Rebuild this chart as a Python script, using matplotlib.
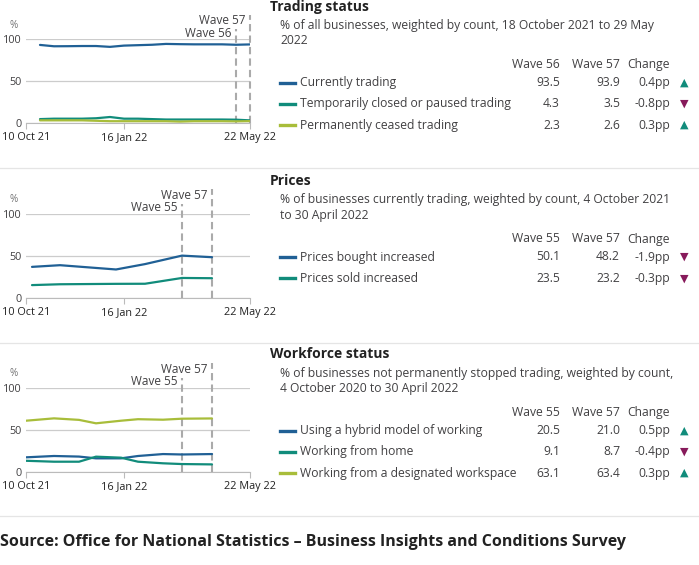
import matplotlib
matplotlib.use("Agg")
import matplotlib.pyplot as plt
from matplotlib.lines import Line2D
import pandas as pd

plt.rcParams["font.family"] = ["Open Sans", "DejaVu Sans"]

W, H = 699, 565
BLUE, TEAL, LIME = "#206095", "#118c7b", "#a8bd3a"
UP, DOWN = "#118c7b", "#871a5b"
TXT, DARK = "#414042", "#222222"
FS = 8.7

# ---- data ----
trading_dates = pd.to_datetime([
    "2021-10-24", "2021-11-07", "2021-11-21", "2021-12-05", "2021-12-19",
    "2022-01-02", "2022-01-16", "2022-01-30", "2022-02-13", "2022-02-27",
    "2022-03-13", "2022-03-27", "2022-04-10", "2022-04-24", "2022-05-08",
    "2022-05-22"])
currently_trading = [93.3, 91.7, 91.8, 92.0, 92.0, 91.0, 92.5, 93.0, 93.5,
                     94.5, 94.2, 94.0, 94.0, 94.0, 93.5, 93.9]
temp_closed = [5.0, 5.5, 5.5, 5.5, 6.0, 7.5, 5.5, 5.5, 5.0, 4.5, 4.5, 4.5,
               4.5, 4.5, 4.3, 3.5]
perm_ceased = [3.5, 3.5, 3.5, 3.5, 3.0, 2.5, 2.5, 2.5, 2.5, 2.5, 2.0, 2.5,
               2.5, 2.5, 2.3, 2.6]

prices_dates = pd.to_datetime([
    "2021-10-16", "2021-11-13", "2022-01-08", "2022-02-06", "2022-03-15",
    "2022-04-14"])
prices_bought = [36.7, 38.7, 33.6, 40.0, 50.1, 48.2]
prices_sold = [15.0, 16.0, 16.5, 16.6, 23.5, 23.2]

work_dates = pd.to_datetime([
    "2021-10-10", "2021-11-07", "2021-12-02", "2021-12-19", "2022-01-13",
    "2022-01-30", "2022-02-24", "2022-03-15", "2022-04-14"])
hybrid = [17.1, 18.7, 18.0, 15.9, 15.9, 18.7, 21.0, 20.5, 21.0]
from_home = [13.0, 11.9, 11.9, 17.9, 16.7, 11.9, 10.0, 9.1, 8.7]
workspace = [60.7, 63.5, 61.7, 57.6, 60.7, 62.5, 61.9, 63.1, 63.4]

x_ticks = pd.to_datetime(["2021-10-10", "2022-01-16", "2022-05-22"])
x_tick_labels = ["10 Oct 21", "16 Jan 22", "22 May 22"]

panels = [
    dict(title="Trading status",
         subtitle=["% of all businesses, weighted by count, 18 October 2021 to 29 May",
                   "2022"],
         dates=trading_dates, waves=["Wave 56", "Wave 57"],
         series=[("Currently trading", currently_trading, BLUE, "93.5", "93.9", "0.4pp", True),
                 ("Temporarily closed or paused trading", temp_closed, TEAL, "4.3", "3.5", "-0.8pp", False),
                 ("Permanently ceased trading", perm_ceased, LIME, "2.3", "2.6", "0.3pp", True)],
         top=0, ax_bottom=123.3),
    dict(title="Prices",
         subtitle=["% of businesses currently trading, weighted by count, 4 October 2021",
                   "to 30 April 2022"],
         dates=prices_dates, waves=["Wave 55", "Wave 57"],
         series=[("Prices bought increased", prices_bought, BLUE, "50.1", "48.2", "-1.9pp", False),
                 ("Prices sold increased", prices_sold, TEAL, "23.5", "23.2", "-0.3pp", False)],
         top=174.5, ax_bottom=297.7),
    dict(title="Workforce status",
         subtitle=["% of businesses not permanently stopped trading, weighted by count,",
                   "4 October 2020 to 30 April 2022"],
         dates=work_dates, waves=["Wave 55", "Wave 57"],
         series=[("Using a hybrid model of working", hybrid, BLUE, "20.5", "21.0", "0.5pp", True),
                 ("Working from home", from_home, TEAL, "9.1", "8.7", "-0.4pp", False),
                 ("Working from a designated workspace", workspace, LIME, "63.1", "63.4", "0.3pp", True)],
         top=348, ax_bottom=471.7),
]

fig = plt.figure(figsize=(W / 100, H / 100), dpi=100)


def fx(x):
    return x / W


def fy(y):
    return 1 - y / H


for p in panels:
    t = p["top"]
    b = p["ax_bottom"]
    ax = fig.add_axes([fx(26), fy(b), fx(224), 84 / H])
    for (label, vals, color, *_rest) in p["series"]:
        ax.plot(p["dates"], vals, color=color, lw=1.6, solid_capstyle="round")
    ax.set_ylim(0, 100)
    ax.set_xlim(x_ticks[0], x_ticks[-1])
    ax.set_yticks([0, 50, 100])
    ax.set_yticklabels(["0", "50", "100"])
    ax.set_xticks(x_ticks)
    ax.set_xticklabels(x_tick_labels)
    ax.grid(axis="y", color="#cccccc", lw=0.9)
    ax.set_axisbelow(True)
    for s in ["left", "right", "top"]:
        ax.spines[s].set_visible(False)
    ax.spines["bottom"].set_color("#bbbbbb")
    ax.tick_params(axis="y", length=0, pad=3, labelsize=7.8, labelcolor=TXT)
    ax.tick_params(axis="x", length=4, color="#bbbbbb", pad=2.5,
                   labelsize=7.8, labelcolor=DARK)
    ax.text(-12 / 224, 1.17, "%", transform=ax.transAxes, fontsize=7.2,
            color="#707071", ha="center", va="center")

    # wave markers at the last two data points
    for d, wname, ylab, ytop in [(p["dates"][-2], p["waves"][0], 107, 112),
                                 (p["dates"][-1], p["waves"][1], 122, 129)]:
        ax.plot([d, d], [0, ytop], color="#aaaaaa", lw=1.5,
                ls=(0, (3.5, 2)), clip_on=False, zorder=1)
        ax.annotate(wname, xy=(d, ylab), xytext=(-3.5, 0),
                    textcoords="offset points", ha="right", va="center",
                    fontsize=8.5, color=TXT, annotation_clip=False)

    # right-hand text block
    fig.text(fx(270), fy(t + 10.5), p["title"], fontsize=10,
             fontweight="bold", color=DARK, va="baseline")
    for i, line in enumerate(p["subtitle"]):
        fig.text(fx(280), fy(t + 29 + 15 * i), line, fontsize=FS,
                 color=TXT, va="baseline")
    hy = t + 68
    fig.text(fx(560), fy(hy), p["waves"][0], fontsize=FS, color=TXT,
             ha="right", va="baseline")
    fig.text(fx(620), fy(hy), p["waves"][1], fontsize=FS, color=TXT,
             ha="right", va="baseline")
    fig.text(fx(670), fy(hy), "Change", fontsize=FS, color=TXT,
             ha="right", va="baseline")
    for j, (label, vals, color, w1, w2, chg, up) in enumerate(p["series"]):
        ry = t + 86 + 21.3 * j
        fig.add_artist(Line2D([fx(280), fx(295)], [fy(ry - 3.5)] * 2,
                              color=color, lw=2.4))
        fig.text(fx(300), fy(ry), label, fontsize=FS, color=TXT,
                 va="baseline")
        fig.text(fx(560), fy(ry), w1, fontsize=FS, color=TXT, ha="right",
                 va="baseline")
        fig.text(fx(620), fy(ry), w2, fontsize=FS, color=TXT, ha="right",
                 va="baseline")
        fig.text(fx(670), fy(ry), chg, fontsize=FS, color=TXT, ha="right",
                 va="baseline")
        fig.text(fx(684), fy(ry - 3.5), "\u25B2" if up else "\u25BC",
                 fontsize=8, family="DejaVu Sans",
                 color=UP if up else DOWN, ha="center", va="center")

for y in [168.3, 342.7, 516]:
    fig.add_artist(Line2D([0, 1], [fy(y)] * 2, color="#e5e5e5", lw=0.9))

fig.text(fx(0), fy(546), "Source: Office for National Statistics \u2013 Business Insights and Conditions Survey",
         fontsize=11.5, fontweight="bold", color=DARK, va="baseline")

fig.savefig("out.png", dpi=100, facecolor="white")
